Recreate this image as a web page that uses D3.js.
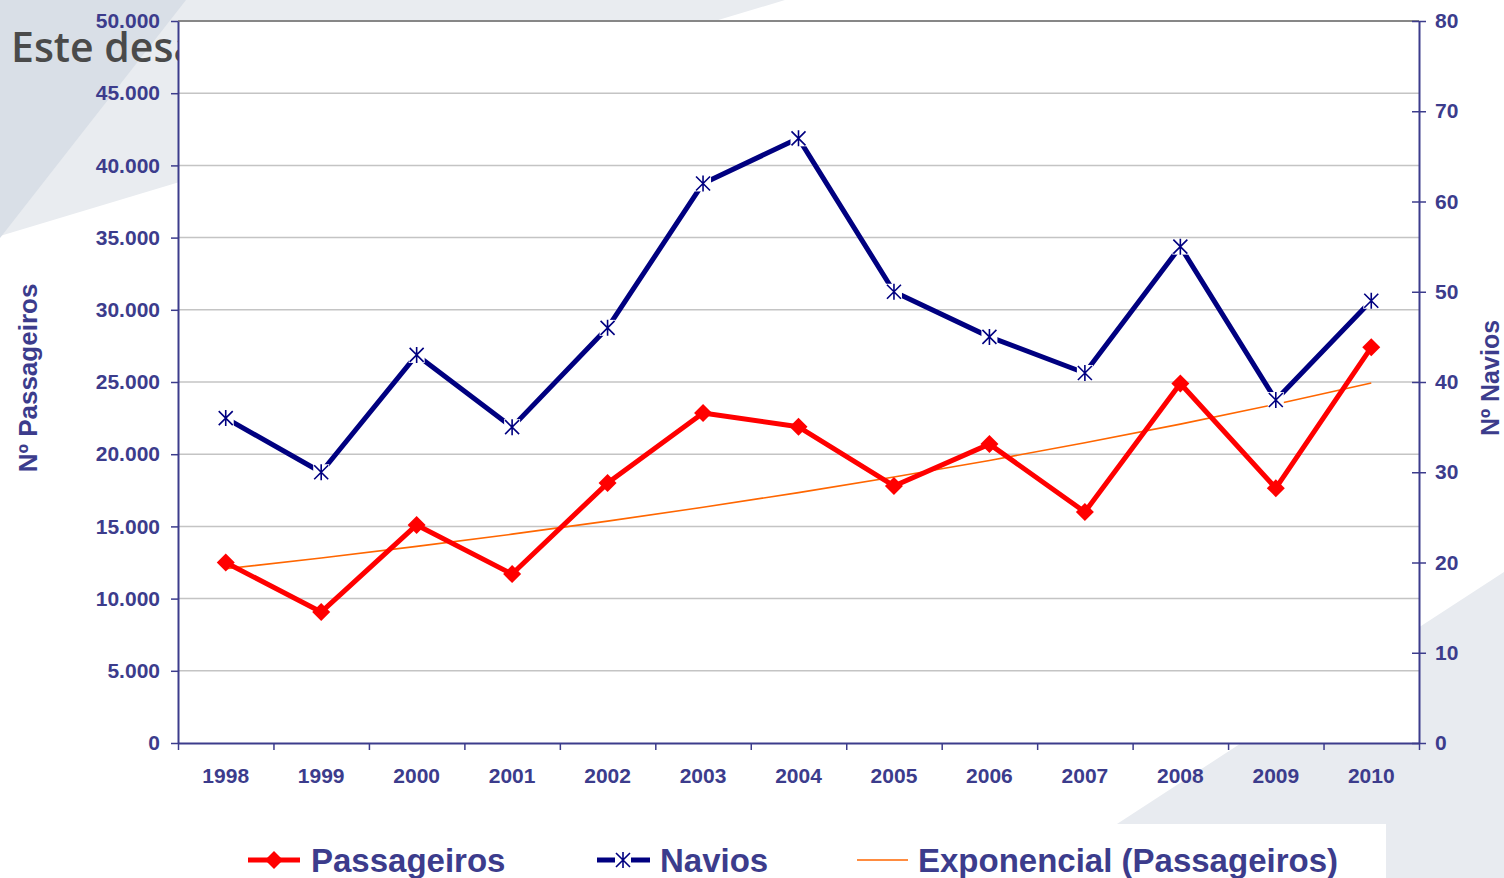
<!DOCTYPE html>
<html>
<head>
<meta charset="utf-8">
<script src="https://cdn.jsdelivr.net/npm/d3@7"></script>
<style>
  html, body { margin: 0; padding: 0; background: #fff; }
  svg { display: block; }
  text { font-family: "Liberation Sans", Arial, sans-serif; font-weight: bold; fill: #3c3c8c; }
</style>
</head>
<body>
<svg id="chart" width="1504" height="878"></svg>
<script>
// valores
var years = ['1998', '1999', '2000', '2001', '2002', '2003', '2004', '2005', '2006', '2007', '2008', '2009', '2010'];
var passageiros = [12500, 9070, 15100, 11700, 18000, 22850, 21900, 17800, 20700, 16000, 24900, 17650, 27400];
var navios = [36, 30, 43, 35, 46, 62, 67, 50, 45, 41, 55, 38, 49];
var leftTicks = [0, 5000, 10000, 15000, 20000, 25000, 30000, 35000, 40000, 45000, 50000];
var rightTicks = [0, 10, 20, 30, 40, 50, 60, 70, 80];
var legendNames = ['Passageiros', 'Navios', 'Exponencial (Passageiros)'];

var AXIS = '#3c3c8c';
var RED = '#ff0000';
var NAVY = '#000080';
var ORANGE = '#ff6600';

var svg = d3.select('#chart');
var plot = {left: 178, right: 1419, top: 21, bottom: 743};

// fundo (formas cinzentas do slide)
var bg = svg.append('g');
bg.append('polygon').attr('points', '0,0 785,0 0,236').attr('fill', '#e9ecf0');
bg.append('polygon').attr('points', '0,0 186,0 0,238').attr('fill', '#d9dfe7');
bg.append('polygon').attr('points', '1504,572 1504,878 1034,878').attr('fill', '#e8ebf0');
bg.append('text').attr('x', 11).attr('y', 62)
  .style('font-family', '"Open Sans", "Noto Sans", sans-serif')
  .style('font-weight', '600').style('font-size', '41px').style('fill', '#4a4a4a')
  .text('Este desa');

// escalas
var x = d3.scaleBand().domain(years).range([plot.left, plot.right]).padding(0);
var xi = d3.scaleLinear().domain([0, years.length]).range([plot.left, plot.right]);
var yL = d3.scaleLinear().domain([0, 50000]).range([plot.bottom, plot.top]);
var yR = d3.scaleLinear().domain([0, 80]).range([plot.bottom, plot.top]);
var cx = function (d, i) { return x(years[i]) + x.bandwidth() / 2; };

var fmtLocale = d3.formatLocale({decimal: ',', thousands: '.', grouping: [3], currency: ['', '']});
var fmt = fmtLocale.format(',');

// area do grafico
svg.append('rect').attr('x', plot.left).attr('y', plot.top)
  .attr('width', plot.right - plot.left).attr('height', plot.bottom - plot.top)
  .attr('fill', '#fff');

svg.append('g').selectAll('line')
  .data(leftTicks.filter(function (d) { return d > 0 && d < 50000; }))
  .enter().append('line')
  .attr('x1', plot.left).attr('x2', plot.right)
  .attr('y1', function (d) { return yL(d); }).attr('y2', function (d) { return yL(d); })
  .attr('stroke', '#c4c4c4').attr('stroke-width', 1.5);

svg.append('line').attr('x1', plot.left).attr('x2', plot.right)
  .attr('y1', plot.top).attr('y2', plot.top)
  .attr('stroke', '#878787').attr('stroke-width', 2);

// eixos
var gL = svg.append('g').attr('transform', 'translate(' + plot.left + ',0)')
  .call(d3.axisLeft(yL).tickValues(leftTicks).tickFormat(fmt).tickSizeInner(7).tickSizeOuter(0).tickPadding(11));
var gR = svg.append('g').attr('transform', 'translate(' + plot.right + ',0)')
  .call(d3.axisRight(yR).tickValues(rightTicks).tickSizeInner(7).tickSizeOuter(0).tickPadding(9));
gR.selectAll('.tick line').attr('x1', -7).attr('x2', 7);
var gB = svg.append('g').attr('transform', 'translate(0,' + plot.bottom + ')')
  .call(d3.axisBottom(xi).tickValues(d3.range(0, years.length + 1)).tickFormat('').tickSizeInner(7).tickSizeOuter(0));
var gBL = svg.append('g').attr('transform', 'translate(0,' + plot.bottom + ')')
  .call(d3.axisBottom(x).tickSize(0).tickPadding(25));

[gL, gR, gB, gBL].forEach(function (g) {
  g.select('.domain').attr('stroke', AXIS).attr('stroke-width', 2);
  g.selectAll('.tick line').attr('stroke', AXIS).attr('stroke-width', 1.5);
  g.selectAll('.tick text').style('font-size', '21px').attr('fill', AXIS)
    .style('font-family', '"Liberation Sans", Arial, sans-serif').style('font-weight', 'bold');
});
gBL.select('.domain').remove();

// titulos dos eixos
svg.append('text').attr('transform', 'translate(37,378) rotate(-90)')
  .attr('text-anchor', 'middle').style('font-size', '26px').text('Nº Passageiros');
svg.append('text').attr('transform', 'translate(1499,378) rotate(-90)')
  .attr('text-anchor', 'middle').style('font-size', '25px').text('Nº Navios');

// linha de tendencia exponencial (minimos quadrados sobre ln)
var n = passageiros.length;
var mx = d3.mean(d3.range(n));
var lny = passageiros.map(function (v) { return Math.log(v); });
var my = d3.mean(lny);
var sxy = d3.sum(d3.range(n), function (i) { return (i - mx) * (lny[i] - my); });
var sxx = d3.sum(d3.range(n), function (i) { return (i - mx) * (i - mx); });
var b = sxy / sxx, a = my - b * mx;
var trend = d3.range(n).map(function (i) { return Math.exp(a + b * i); });

svg.append('path').datum(trend)
  .attr('d', d3.line().x(cx).y(function (d) { return yL(d); }))
  .attr('fill', 'none').attr('stroke', ORANGE).attr('stroke-width', 1.6);

// Passageiros
svg.append('path').datum(passageiros)
  .attr('d', d3.line().x(cx).y(function (d) { return yL(d); }))
  .attr('fill', 'none').attr('stroke', RED).attr('stroke-width', 5).attr('stroke-linejoin', 'round');

var diamond = 'M0,-9 L9,0 L0,9 L-9,0 Z';
svg.append('g').selectAll('path').data(passageiros).enter().append('path')
  .attr('transform', function (d, i) { return 'translate(' + cx(d, i) + ',' + yL(d) + ')'; })
  .attr('d', diamond).attr('fill', RED);

// Navios
svg.append('path').datum(navios)
  .attr('d', d3.line().x(cx).y(function (d) { return yR(d); }))
  .attr('fill', 'none').attr('stroke', NAVY).attr('stroke-width', 5).attr('stroke-linejoin', 'round');

var star = 'M-7,-7 L7,7 M-7,7 L7,-7 M0,-8 L0,8';
var gs = svg.append('g').selectAll('g').data(navios).enter().append('g')
  .attr('transform', function (d, i) { return 'translate(' + cx(d, i) + ',' + yR(d) + ')'; });
gs.append('rect').attr('x', -8).attr('y', -8).attr('width', 16).attr('height', 16).attr('fill', '#fff');
gs.append('path').attr('d', star).attr('fill', 'none').attr('stroke', NAVY).attr('stroke-width', 1.6);

// legenda
svg.append('rect').attr('x', 200).attr('y', 824).attr('width', 1186).attr('height', 54).attr('fill', '#fff');
var ly = 860;
var leg = svg.append('g');
leg.append('line').attr('x1', 248).attr('x2', 300).attr('y1', ly).attr('y2', ly).attr('stroke', RED).attr('stroke-width', 5);
leg.append('path').attr('transform', 'translate(274,' + ly + ')').attr('d', diamond).attr('fill', RED);
leg.append('line').attr('x1', 597).attr('x2', 650).attr('y1', ly).attr('y2', ly).attr('stroke', NAVY).attr('stroke-width', 5);
leg.append('rect').attr('x', 615).attr('y', ly - 8).attr('width', 16).attr('height', 16).attr('fill', '#fff');
leg.append('path').attr('transform', 'translate(623,' + ly + ')').attr('d', star)
  .attr('fill', 'none').attr('stroke', NAVY).attr('stroke-width', 1.6);
leg.append('line').attr('x1', 857).attr('x2', 908).attr('y1', ly).attr('y2', ly).attr('stroke', ORANGE).attr('stroke-width', 1.6);

var legX = [311, 660, 918];
leg.selectAll('text.lg').data(legendNames).enter().append('text').attr('class', 'lg')
  .attr('x', function (d, i) { return legX[i]; }).attr('y', 872)
  .style('font-size', '33px').text(function (d) { return d; });
</script>
</body>
</html>
